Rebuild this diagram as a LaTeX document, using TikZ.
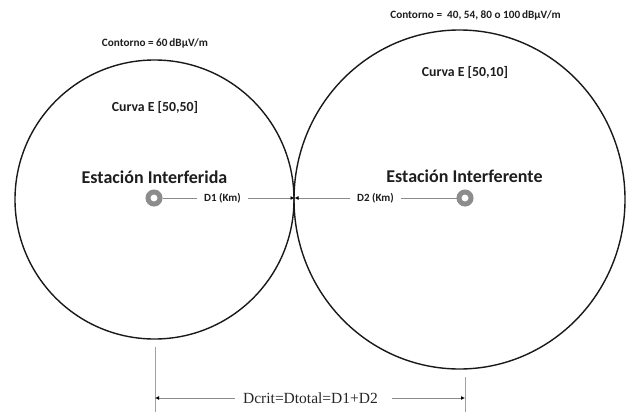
\documentclass[tikz,border=0pt]{standalone}
\usepackage{fontspec}
\setmainfont{Carlito}
\newfontfamily\serifdc{Liberation Serif}
\usetikzlibrary{arrows.meta}
\definecolor{txt}{HTML}{1E1E1E}
\definecolor{ringgray}{HTML}{8C8C8C}
\definecolor{linegray}{HTML}{8A8A8A}
\tikzset{
  every node/.style={inner sep=0pt, text=txt},
  lbl/.style={font=\bfseries\fontsize{11.2}{13}\selectfont},
  curva/.style={font=\bfseries\fontsize{13.8}{16}\selectfont},
  est/.style={font=\bfseries\fontsize{18}{20}\selectfont},
  dist/.style={font=\bfseries\fontsize{11}{12}\selectfont},
  station/.style={circle, draw=ringgray, line width=5pt, minimum size=12pt},
  zone/.style={line width=1.4pt, draw=black!90},
  conn/.style={draw=linegray, line width=0.8pt},
  tip/.style={-{Latex[length=4pt,width=4pt,color=black]}},
  guide/.style={draw=linegray!80, line width=1pt}
}
\begin{document}
\begin{tikzpicture}[x=1pt,y=-1pt]
\useasboundingbox (0,0) rectangle (626,412);
% zones
\draw[zone] (154.5,199.5) circle (139.5);
\draw[zone] (459.5,199.5) ellipse [x radius=165.5, y radius=169.5];
% texts
\node[lbl] (contL) at (155,43) {Contorno = 60\,dBµV/m};
\node[lbl] (contR) at (475.5,15) {Contorno = \ 40, 54, 80 o 100\,dBµV/m};
\node[curva] (curL) at (155,107) {Curva E [50,50]};
\node[curva] (curR) at (465,72) {Curva E [50,10]};
\node[est] (estL) at (154.5,177) {Estación Interferida};
\node[est] (estR) at (464.5,176) {Estación Interferente};
% stations
\node[station] (sL) at (154,198) {};
\node[station] (sR) at (465,198) {};
\coordinate (T) at (294.5,198);
\node[dist] (d1) at (222.5,198) {D1 (Km)};
\node[dist] (d2) at (375.5,198) {D2 (Km)};
\draw[conn] (sL.east) -- ([xshift=-7pt]d1.west);
\draw[conn,tip] ([xshift=7pt]d1.east) -- (T);
\draw[conn,tip] ([xshift=-7pt]d2.west) -- (T);
\draw[conn] ([xshift=7pt]d2.east) -- (sR.west);
% bottom dimension
\coordinate (gLt) at (155,347);
\coordinate (gLb) at (155,412);
\coordinate (gRt) at (465,377);
\coordinate (gRb) at (465,412);
\coordinate (aL) at (155,398);
\coordinate (aR) at (465,398);
\draw[guide] (gLt) -- (gLb);
\draw[guide] (gRt) -- (gRb);
\node[font=\serifdc\fontsize{15.5}{17}\selectfont, text=black!85] (dc) at (310.5,398) {Dcrit=Dtotal=D1+D2};
\draw[conn,tip] ([xshift=-8pt]dc.west) -- (aL);
\draw[conn,tip] ([xshift=14pt]dc.east) -- (aR);
\end{tikzpicture}
\end{document}
